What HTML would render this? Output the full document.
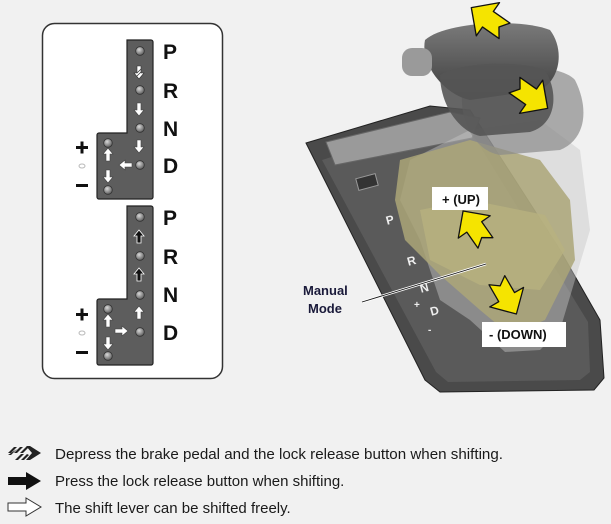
<!DOCTYPE html>
<html><head><meta charset="utf-8"><style>
html,body{margin:0;padding:0;background:#f1f1f1;}
body{width:611px;height:524px;overflow:hidden;position:relative;font-family:"Liberation Sans",Arial,sans-serif;}
svg{position:absolute;left:0;top:0;}
</style></head><body>
<svg width="611" height="524" viewBox="0 0 611 524" xmlns="http://www.w3.org/2000/svg">
<defs>
<g id="ya"><polygon points="-14,-7 1,-7 1,-15 16,0 1,15 1,7 -14,7 -9,0" fill="#f5e400" stroke="#111" stroke-width="1" stroke-linejoin="round"/></g>
<g id="wu"><polygon points="0,-7 5,-1 2,-1 2,6 -2,6 -2,-1 -5,-1" fill="#fff" stroke="#444" stroke-width="0.6"/></g>
<g id="bu"><polygon points="0,-7 5,-1 2,-1 2,6 -2,6 -2,-1 -5,-1" fill="#111" stroke="#fff" stroke-width="0.8"/></g>
<radialGradient id="dot" cx="0.4" cy="0.35" r="0.7"><stop offset="0" stop-color="#d8d8d8"/><stop offset="1" stop-color="#555"/></radialGradient>
<g id="c"><circle r="4.3" fill="url(#dot)" stroke="#333" stroke-width="0.8"/></g>
<linearGradient id="knob" x1="0" y1="0" x2="0" y2="1"><stop offset="0" stop-color="#7a7a7a"/><stop offset="1" stop-color="#3e3e3e"/></linearGradient>
</defs>

<rect x="42.5" y="23.5" width="180" height="355" rx="12" fill="#fff" stroke="#333" stroke-width="1.5"/>

<path d="M127,40 h24 a2,2 0 0 1 2,2 v155 a2,2 0 0 1 -2,2 h-52 a2,2 0 0 1 -2,-2 v-62 a2,2 0 0 1 2,-2 h28 z" fill="#5d5d5d" stroke="#222" stroke-width="1.2"/>
<use href="#c" x="140" y="51"/><use href="#c" x="140" y="90"/><use href="#c" x="140" y="128"/><use href="#c" x="140" y="165"/>
<use href="#c" x="108" y="143"/><use href="#c" x="108" y="190"/>
<g transform="translate(139,72) rotate(180)"><polygon points="0,-7 5,-1 2,-1 2,6 -2,6 -2,-1 -5,-1" fill="#fff" stroke="#333" stroke-width="0.6"/><line x1="-2" y1="3" x2="2" y2="-1" stroke="#333" stroke-width="0.7"/><line x1="-2" y1="0" x2="2" y2="-4" stroke="#333" stroke-width="0.7"/></g>
<use href="#wu" transform="translate(139,109) rotate(180)"/>
<use href="#wu" transform="translate(139,146) rotate(180)"/>
<use href="#wu" transform="translate(126,165) rotate(-90)"/>
<use href="#wu" transform="translate(108,155)"/>
<use href="#wu" transform="translate(108,176) rotate(180)"/>

<path d="M127,206 h24 a2,2 0 0 1 2,2 v155 a2,2 0 0 1 -2,2 h-52 a2,2 0 0 1 -2,-2 v-62 a2,2 0 0 1 2,-2 h28 z" fill="#5d5d5d" stroke="#222" stroke-width="1.2"/>
<use href="#c" x="140" y="217"/><use href="#c" x="140" y="256"/><use href="#c" x="140" y="295"/><use href="#c" x="140" y="332"/>
<use href="#c" x="108" y="309"/><use href="#c" x="108" y="356"/>
<use href="#bu" transform="translate(139,237)"/>
<use href="#bu" transform="translate(139,275)"/>
<use href="#wu" transform="translate(139,313)"/>
<use href="#wu" transform="translate(121,331) rotate(90)"/>
<use href="#wu" transform="translate(108,321)"/>
<use href="#wu" transform="translate(108,343) rotate(180)"/>

<g font-family="Liberation Sans,Arial,sans-serif" font-weight="bold" font-size="21" fill="#111">
<text x="163" y="59">P</text><text x="163" y="98">R</text><text x="163" y="136">N</text><text x="163" y="173">D</text>
<text x="163" y="225">P</text><text x="163" y="264">R</text><text x="163" y="302">N</text><text x="163" y="340">D</text>
</g>
<g fill="#111">
<rect x="76" y="146" width="12" height="3"/><rect x="80.5" y="141.5" width="3" height="12"/>
<rect x="76" y="184" width="12" height="3"/>
<rect x="76" y="313" width="12" height="3"/><rect x="80.5" y="308.5" width="3" height="12"/>
<rect x="76" y="351" width="12" height="3"/>
</g>
<ellipse cx="82" cy="166" rx="3" ry="2" fill="none" stroke="#bbb"/>
<ellipse cx="82" cy="333" rx="3" ry="2" fill="none" stroke="#bbb"/>

<path d="M306,143 L430,106 L470,110 L560,250 L600,320 L604,378 L594,390 L440,392 L425,380 Z" fill="#4a4a4a" stroke="#222" stroke-width="1"/>
<path d="M322,160 L430,126 L470,130 L550,260 L588,322 L590,372 L580,380 L448,382 L436,372 Z" fill="#5a5a5a"/>
<path d="M326,142 L450,112 L480,118 L472,138 L335,165 Z" fill="#9a9a9a" stroke="#666"/>
<rect x="357" y="176" width="20" height="12" fill="#333" stroke="#999" transform="rotate(-15 367 182)"/>
<g fill="#eee" font-family="Liberation Sans,Arial,sans-serif" font-weight="bold" font-size="12">
<text x="386" y="224" transform="rotate(-15 390 220)">P</text>
<text x="407" y="265" transform="rotate(-15 411 260)">R</text>
<text x="420" y="292" transform="rotate(-15 424 288)">N</text>
<text x="430" y="315" transform="rotate(-15 434 310)">D</text>
<text x="414" y="308" font-size="10">+</text>
<text x="428" y="333" font-size="10">-</text>
</g>
<path d="M470,130 L540,120 L580,150 L590,230 L575,280 L560,330 L540,350 L505,352 L470,320 L440,300 L420,240 L400,200 L410,160 Z" fill="#c8c8c8" opacity="0.45"/>
<path d="M400,160 L470,140 L540,160 L570,200 L575,260 L545,320 L510,335 L480,310 L440,275 L405,240 L395,200 Z" fill="#aca678" opacity="0.85"/>
<path d="M420,210 L470,200 L545,215 L565,250 L540,290 L480,285 L430,260 Z" fill="#b8b27f" opacity="0.8"/>
<path d="M465,80 C480,62 560,62 575,80 C590,110 585,140 560,150 L500,155 C470,150 455,110 465,80 Z" fill="#8a8a8a" opacity="0.7"/>
<path d="M425,40 C445,22 520,18 550,30 C565,50 560,80 540,90 L470,100 C445,95 420,65 425,40 Z" fill="url(#knob)"/>
<path d="M440,75 C460,62 520,60 545,70 C560,95 555,125 530,132 L480,136 C455,130 440,100 440,75 Z" fill="#555" opacity="0.9"/>
<rect x="402" y="48" width="30" height="28" rx="10" fill="#9a9a9a"/>

<use href="#ya" transform="translate(489,20) rotate(-145) scale(1.35)"/>
<use href="#ya" transform="translate(530,96) rotate(35) scale(1.35)"/>
<use href="#ya" transform="translate(475,228) rotate(-125) scale(1.3)"/>
<use href="#ya" transform="translate(506,296) rotate(60) scale(1.3)"/>

<rect x="432" y="187" width="56" height="23" fill="#fff"/>
<text x="442" y="204" font-family="Liberation Sans,Arial,sans-serif" font-weight="bold" font-size="13" fill="#111">+ (UP)</text>
<rect x="482" y="322" width="84" height="25" fill="#fff"/>
<text x="489" y="339" font-family="Liberation Sans,Arial,sans-serif" font-weight="bold" font-size="13" fill="#111">- (DOWN)</text>
<line x1="362" y1="302" x2="486" y2="264" stroke="#fff" stroke-width="2.5"/>
<line x1="362" y1="302" x2="486" y2="264" stroke="#111" stroke-width="0.9"/>
<g font-family="Liberation Sans,Arial,sans-serif" font-weight="bold" font-size="13" fill="#1a1a3a">
<text x="303" y="295">Manual</text><text x="308" y="313">Mode</text>
</g>

<g transform="translate(8,447)">
<polygon points="0,6 6,0 9,0 3,6" fill="#222"/><polygon points="6,6 12,0 15,0 9,6" fill="#222"/><polygon points="12,6 18,0 21,0 15,6" fill="#222"/>
<polygon points="0,8 3,8 9,2" fill="#222"/>
<polygon points="18,-1 22,-1 33,6 22,13 18,13 24,6" fill="#222"/>
<polygon points="7,13 13,7 16,7 10,13" fill="#222"/><polygon points="13,13 19,7 21,8 16,13" fill="#222"/>
</g>
<polygon points="8,477 26,477 26,472 41,481 26,490 26,485 8,485" fill="#111"/>
<polygon points="8,503 26,503 26,498 41,507 26,516 26,511 8,511" fill="#fff" stroke="#333" stroke-width="1"/>
<g font-family="Liberation Sans,Arial,sans-serif" font-size="15" fill="#1a1a1a">
<text x="55" y="459" textLength="448" lengthAdjust="spacingAndGlyphs">Depress the brake pedal and the lock release button when shifting.</text>
<text x="55" y="486">Press the lock release button when shifting.</text>
<text x="55" y="513">The shift lever can be shifted freely.</text>
</g>
</svg>
</body></html>
